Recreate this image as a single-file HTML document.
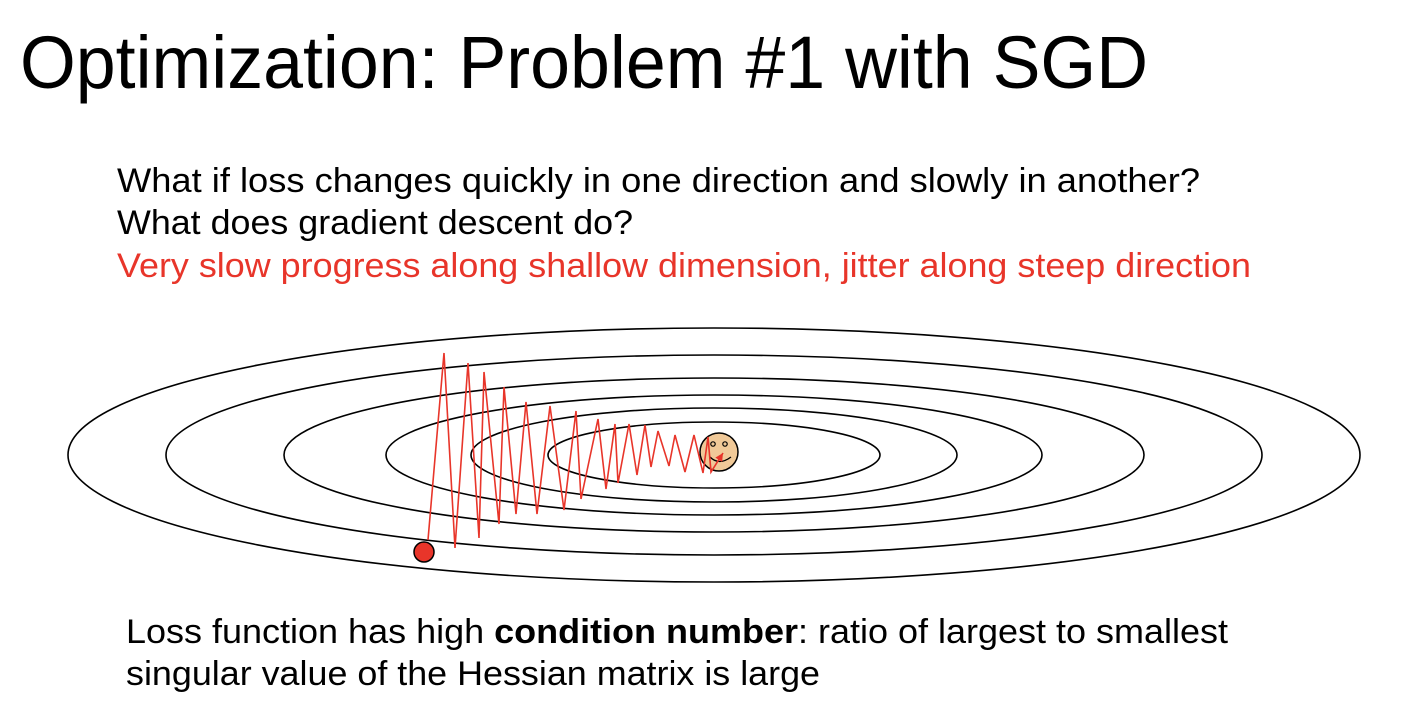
<!DOCTYPE html>
<html><head><meta charset="utf-8"><style>
html,body{margin:0;padding:0;background:#fff;}
svg{display:block;font-family:"Liberation Sans",Arial,sans-serif;}
</style></head><body>
<svg id="slide" width="1417" height="721" viewBox="0 0 1417 721">
<text x="20" y="88" font-size="74" textLength="1128" lengthAdjust="spacingAndGlyphs" fill="#000">Optimization: Problem #1 with SGD</text>
<text x="117" y="192" font-size="34" textLength="1083" lengthAdjust="spacingAndGlyphs" fill="#000">What if loss changes quickly in one direction and slowly in another?</text>
<text x="117" y="234" font-size="34" textLength="516" lengthAdjust="spacingAndGlyphs" fill="#000">What does gradient descent do?</text>
<text x="117" y="277" font-size="34" textLength="1134" lengthAdjust="spacingAndGlyphs" fill="#e8352a">Very slow progress along shallow dimension, jitter along steep direction</text>
<g id="contours"></g>
<g id="path"></g>
<text x="126" y="643" font-size="34" textLength="1102" lengthAdjust="spacingAndGlyphs" fill="#000">Loss function has high <tspan font-weight="bold">condition number</tspan>: ratio of largest to smallest</text>
<text x="126" y="685" font-size="34" textLength="694" lengthAdjust="spacingAndGlyphs" fill="#000">singular value of the Hessian matrix is large</text>
</svg>
<script>
const NS="http://www.w3.org/2000/svg";
// contour ellipses: semi-axes
const contourRx=[646,548,430,328,243,166];
const contourRy=[127,100,77,60,47,33];
const centerX=714, centerY=455;
// SGD path points
const pathX=[428,444,455,468,479,484,499,504,516,526,537,550,564,576,581,598,606,615,618,629,637,645,651,658,669,675,685,694,703,708,711];
const pathY=[540,353,548,363,538,372,524,387,514,402,514,406,510,411,499,419,489,424,483,424,475,425,467,431,466,435,472,435,473,437,472];
const arrowEnd=[723,453];
const startPt=[424,552];
const goalPt=[719,452];

const cg=document.getElementById('contours');
for(let i=0;i<contourRx.length;i++){
  const e=document.createElementNS(NS,'ellipse');
  
  
  e.setAttribute('cx',centerX);e.setAttribute('cy',centerY);
  e.setAttribute('rx',contourRx[i]);e.setAttribute('ry',contourRy[i]);
  e.setAttribute('fill','none');e.setAttribute('stroke','#000');e.setAttribute('stroke-width','1.6');
  cg.appendChild(e);
}
const pg=document.getElementById('path');
// goal smiley
const face=document.createElementNS(NS,'circle');


face.setAttribute('cx',goalPt[0]);face.setAttribute('cy',goalPt[1]);face.setAttribute('r',19);
face.setAttribute('fill','#f0c998');face.setAttribute('stroke','#000');face.setAttribute('stroke-width','1.5');
pg.appendChild(face);
[[-6,-8],[6,-8]].forEach(d=>{
  const c=document.createElementNS(NS,'circle');
  
  
  c.setAttribute('cx',goalPt[0]+d[0]);c.setAttribute('cy',goalPt[1]+d[1]);c.setAttribute('r',2.2);
  c.setAttribute('fill','none');c.setAttribute('stroke','#000');c.setAttribute('stroke-width','1.2');
  pg.appendChild(c);
});
const m=document.createElementNS(NS,'path');


m.setAttribute('d',`M${goalPt[0]-9} ${goalPt[1]+5} Q${goalPt[0]} ${goalPt[1]+14} ${goalPt[0]+12} ${goalPt[1]+5}`);
m.setAttribute('fill','none');m.setAttribute('stroke','#000');m.setAttribute('stroke-width','1.3');
pg.appendChild(m);
// zigzag
let d='M'+pathX[0]+' '+pathY[0];
for(let i=1;i<pathX.length;i++) d+=' L'+pathX[i]+' '+pathY[i];
d+=' L'+arrowEnd[0]+' '+arrowEnd[1];
const zz=document.createElementNS(NS,'path');


zz.setAttribute('d',d);zz.setAttribute('fill','none');zz.setAttribute('stroke','#e8352a');zz.setAttribute('stroke-width','1.6');
pg.appendChild(zz);
// arrowhead
const n=pathX.length-1;
const ang=Math.atan2(arrowEnd[1]-pathY[n],arrowEnd[0]-pathX[n]);
const L=8,W=4;
const bx=arrowEnd[0]-L*Math.cos(ang), by=arrowEnd[1]-L*Math.sin(ang);
const ah=document.createElementNS(NS,'polygon');


ah.setAttribute('points',`${arrowEnd[0]},${arrowEnd[1]} ${bx-W*Math.sin(ang)},${by+W*Math.cos(ang)} ${bx+W*Math.sin(ang)},${by-W*Math.cos(ang)}`);
ah.setAttribute('fill','#e8352a');
pg.appendChild(ah);
// start ball
const s=document.createElementNS(NS,'circle');


s.setAttribute('cx',startPt[0]);s.setAttribute('cy',startPt[1]);s.setAttribute('r',10);
s.setAttribute('fill','#e8352a');s.setAttribute('stroke','#000');s.setAttribute('stroke-width','1.5');
pg.appendChild(s);
</script>
</body></html>
